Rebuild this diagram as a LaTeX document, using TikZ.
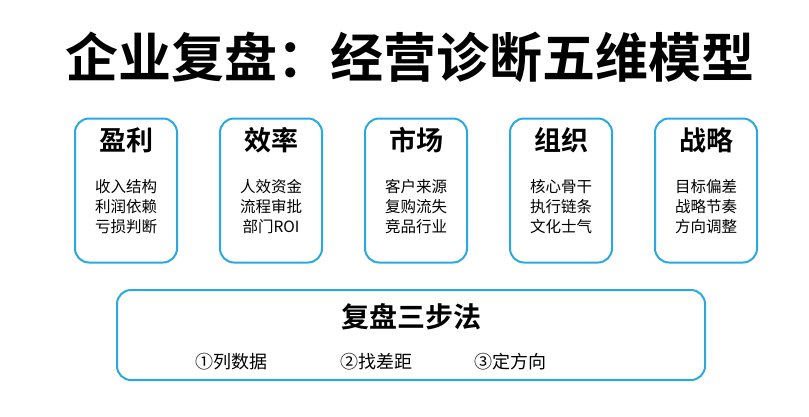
\documentclass[tikz,border=0pt]{standalone}
\usepackage{fontspec}
\newfontfamily\cjk{Noto Sans CJK SC}
\newfontfamily\cjkb{Noto Sans CJK SC Bold}
\definecolor{boxblue}{HTML}{29A9E0}
\begin{document}
\begin{tikzpicture}[x=1pt,y=-1pt,
  card/.style={draw=boxblue,line width=2pt,rounded corners=14pt},
  cardtitle/.style={font=\cjkb\fontsize{27}{30}\selectfont,inner sep=0pt},
  items/.style={font=\cjk\fontsize{15.5}{20}\selectfont,align=center,inner sep=0pt},
  steptxt/.style={font=\cjk\fontsize{18}{20}\selectfont,inner sep=0pt}]
\useasboundingbox (0,0) rectangle (809,416);
\node[font=\cjkb\fontsize{53}{56}\selectfont,inner sep=0pt] (title) at (410,57) {企业复盘：经营诊断五维模型};
\foreach \x/\n/\t/\a/\b/\c in {
  126/c1/盈利/收入结构/利润依赖/亏损判断,
  271/c2/效率/人效资金/流程审批/部门ROI,
  416/c3/市场/客户来源/复购流失/竞品行业,
  561/c4/组织/核心骨干/执行链条/文化士气,
  706/c5/战略/目标偏差/战略节奏/方向调整}{
  \node[card,minimum width=102pt,minimum height=144pt] (\n) at (\x,190.5) {};
  \node[cardtitle] (\n t) at (\x,140) {\t};
  \node[items] (\n i) at (\x,207) {\a\\\b\\\c};
}
\node[card,minimum width=588pt,minimum height=90pt] (bottom) at (411,335) {};
\node[font=\cjkb\fontsize{28}{30}\selectfont,inner sep=0pt] (bt) at (411,317) {复盘三步法};
\node[steptxt] (s1) at (231,362) {①列数据};
\node[steptxt] (s2) at (376,362) {②找差距};
\node[steptxt] (s3) at (510,362) {③定方向};
\end{tikzpicture}
\end{document}
